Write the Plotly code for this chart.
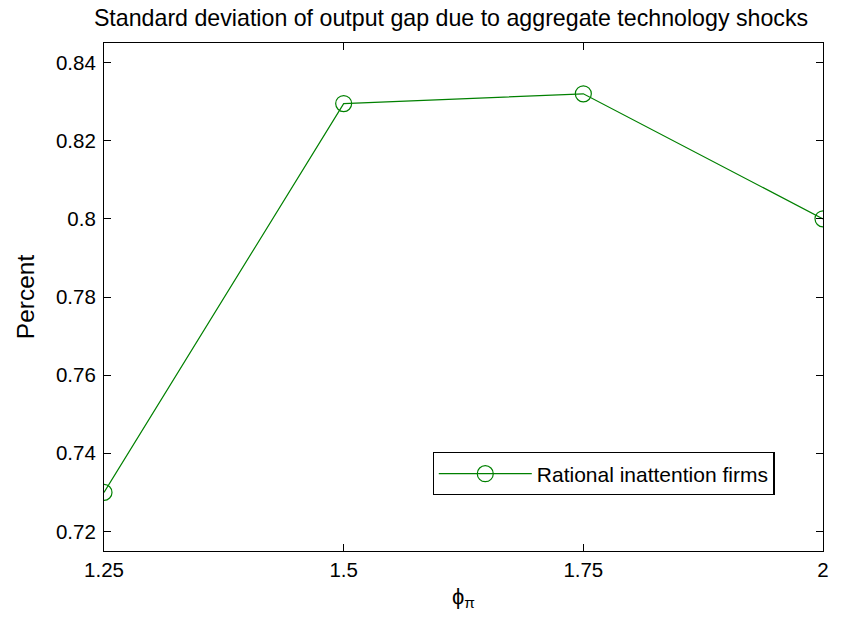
import plotly.graph_objects as go

phi_pi = [1.25, 1.5, 1.75, 2.0]
std_output_gap = [0.730, 0.8295, 0.832, 0.800]
series_name = "Rational inattention firms"
x_ticks = [1.25, 1.5, 1.75, 2.0]
x_tick_labels = ["1.25", "1.5", "1.75", "2"]
y_ticks = [0.72, 0.74, 0.76, 0.78, 0.80, 0.82, 0.84]
y_tick_labels = ["0.72", "0.74", "0.76", "0.78", "0.8", "0.82", "0.84"]

FONT = "Liberation Sans, Arial, Helvetica, sans-serif"
green = "#008000"

fig = go.Figure()
fig.add_trace(go.Scatter(
    x=phi_pi, y=std_output_gap, mode="lines+markers", name=series_name,
    line=dict(color=green, width=1.2),
    marker=dict(symbol="circle-open", size=16, color=green, line=dict(width=1.2, color=green)),
))

axis_common = dict(
    showline=True, linecolor="black", linewidth=1.2, mirror="ticks",
    ticks="inside", ticklen=7, tickcolor="black", tickwidth=1,
    showgrid=False, zeroline=False,
    tickfont=dict(family=FONT, size=20.5, color="black"),
)

fig.update_layout(
    width=847, height=625,
    paper_bgcolor="white", plot_bgcolor="white",
    margin=dict(l=96, r=32, t=35, b=82),
    title=dict(text="Standard deviation of output gap due to aggregate technology shocks",
               x=443 / 847, xanchor="center", y=1 - 10 / 625, yanchor="middle",
               font=dict(family=FONT, size=23.2, color="black")),
    xaxis=dict(range=[1.25, 2.0], tickvals=x_ticks, ticktext=x_tick_labels,
               title=dict(text="ϕ<sub>π</sub>", font=dict(family=FONT, size=22, color="black"), standoff=8),
               **axis_common),
    yaxis=dict(range=[0.715, 0.845], tickvals=y_ticks, ticktext=y_tick_labels,
               ticklabelstandoff=3,
               title=dict(text="Percent", font=dict(family=FONT, size=24.5, color="black"), standoff=14),
               **axis_common),
    showlegend=True,
    legend=dict(x=0.457, y=0.1943, xanchor="left", yanchor="top",
                bordercolor="black", borderwidth=1.2, bgcolor="white",
                font=dict(family=FONT, size=21, color="black"),
                itemwidth=93),
    font=dict(family=FONT, color="black"),
)

fig.write_html("out.html")
